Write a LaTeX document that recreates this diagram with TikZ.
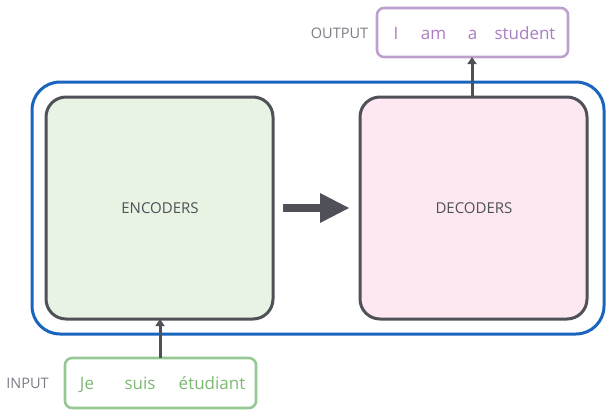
\documentclass[tikz,border=0pt]{standalone}
\usepackage{fontspec}
\setmainfont{Open Sans}
\usetikzlibrary{arrows.meta}
\definecolor{bluel}{RGB}{25,100,190}
\definecolor{grayl}{RGB}{80,80,88}
\definecolor{encfill}{RGB}{232,243,228}
\definecolor{decfill}{RGB}{253,232,242}
\definecolor{purl}{RGB}{190,160,205}
\definecolor{purt}{RGB}{170,125,195}
\definecolor{greenl}{RGB}{150,200,150}
\definecolor{greent}{RGB}{125,185,115}
\definecolor{labelgray}{RGB}{125,125,135}
\begin{document}
\begin{tikzpicture}[x=1pt,y=-1pt,
  block/.style={draw=grayl,line width=3pt,rounded corners=20pt},
  blocktext/.style={font=\fontsize{15}{17}\selectfont,text=grayl},
  wordbox/.style={line width=2.6pt,rounded corners=7pt},
  side/.style={font=\fontsize{14.5}{16}\selectfont,text=labelgray},
  word/.style={font=\fontsize{17}{19}\selectfont,inner sep=0pt,anchor=base},
  thin/.style={draw=grayl,line width=3pt,-{Triangle[length=7pt,width=9pt]}}]
\fill[white] (0,0) rectangle (609,415);
\useasboundingbox (0,0) rectangle (609,415);
% outer
\draw[bluel,line width=3pt,rounded corners=28pt] (32,82) rectangle (604,334);
% encoder / decoder
\draw[block,fill=encfill] (46,97) rectangle (273,319);
\node[blocktext] (enc) at (160,208) {ENCODERS};
\coordinate (encB) at (160,319);
\draw[block,fill=decfill] (360,97) rectangle (587,319);
\node[blocktext] (dec) at (474,208) {DECODERS};
\coordinate (decT) at (472,97);
% big arrow
\fill[grayl] (283,204) rectangle (321,212);
\fill[grayl] (320,193) -- (349,208) -- (320,223) -- cycle;
% output
\draw[wordbox,draw=purl] (377,8) rectangle (568,57);
\coordinate (outB) at (472,57);
\node[side] (olab) at (339.5,33) {OUTPUT};
\node[word,text=purt] (w1) at (396,39) {I};
\node[word,text=purt] (w2) at (433.5,39) {am};
\node[word,text=purt] (w3) at (472.5,39) {a};
\node[word,text=purt] (w4) at (525,39) {student};
% input
\draw[wordbox,draw=greenl] (65,358) rectangle (256,408);
\coordinate (inT) at (160,358);
\node[side] (ilab) at (27.5,383) {INPUT};
\node[word,text=greent] (v1) at (87,389) {Je};
\node[word,text=greent] (v2) at (140,389) {suis};
\node[word,text=greent] (v3) at (212,389) {étudiant};
% connectors
\draw[thin] (inT) -- (encB);
\draw[thin] (decT) -- (outB);
\end{tikzpicture}
\end{document}
